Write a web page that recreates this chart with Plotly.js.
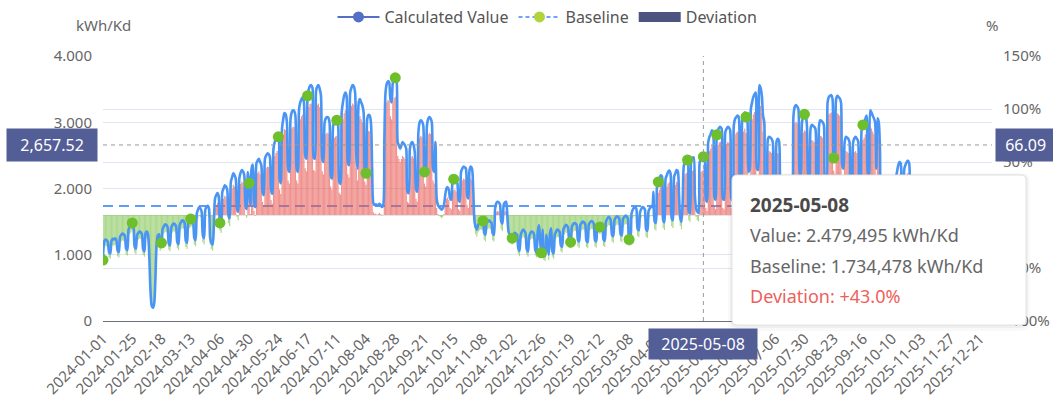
<!DOCTYPE html>
<html>
<head>
<meta charset="utf-8">
<script src="https://cdn.plot.ly/plotly-3.0.1.min.js"></script>
<style>html,body{margin:0;padding:0;background:#fff}#chart{width:1053px;height:408px}</style>
</head>
<body>
<div id="chart"></div>
<script>
// ---------------- data ----------------
const startDate = '2024-01-01';
const axisEnd = '2025-12-31';
const baselineValue = 1734.478;      // kWh/Kd
const hoverDate = '2025-05-08';
const pointerKwh = 2657.52;
const pointerPct = 66.09;

const tickLabels = [
  '2024-01-01','2024-01-25','2024-02-18','2024-03-13','2024-04-06','2024-04-30',
  '2024-05-24','2024-06-17','2024-07-11','2024-08-04','2024-08-28','2024-09-21',
  '2024-10-15','2024-11-08','2024-12-02','2024-12-26','2025-01-19','2025-02-12',
  '2025-03-08','2025-04-01','2025-04-25','2025-05-19','2025-06-12','2025-07-06',
  '2025-07-30','2025-08-23','2025-09-16','2025-10-10','2025-11-03','2025-11-27',
  '2025-12-21'
];

// daily calculated value (kWh/Kd), one row per week (Mon..Sun), from 2024-01-01
const dailyValues = [
  920,1200,1230,1220,1190,1040,1020,
  1210,1240,1230,1250,1220,1060,1040,
  1270,1300,1320,1310,1280,1090,1070,
  1380,1420,1450,1480,1440,1120,1090,
  1300,1330,1350,1340,1310,1080,1050,
  1330,1350,1300,980,450,230,200,
  260,620,1150,1290,1310,1150,1180,
  1390,1430,1460,1450,1420,1170,1140,
  1410,1450,1470,1460,1430,1190,1160,
  1450,1490,1520,1510,1480,1210,1180,
  1490,1520,1540,1550,1510,1250,1220,
  1620,1680,1720,1700,1650,1290,1250,
  1680,1720,1740,1700,1250,1180,1150,
  1420,1850,1900,1930,1880,1480,1440,
  1950,2000,2050,2030,1980,1600,1550,
  2100,2170,2230,2200,2150,1700,1650,
  2160,2240,2280,2260,2200,1740,1690,
  2250,2080,1750,2300,2360,1800,1720,
  2380,2420,2450,2400,2350,1950,1900,
  2450,2500,2530,2520,2480,1980,1920,
  2600,2700,2750,2780,2780,2150,2080,
  2900,3050,3140,3120,3000,2300,2250,
  3050,3150,3180,3170,3100,2300,2250,
  3200,3300,3350,3380,3300,2500,2450,
  3400,3500,3550,3560,3520,2470,2450,
  3480,3540,3560,3500,3400,2450,2400,
  3000,3060,3080,3070,3000,2200,2150,
  2950,3000,3020,3030,2980,2100,2070,
  3150,3300,3400,3450,3400,2400,2350,
  3450,3520,3560,3540,3450,2500,2300,
  3300,3350,3300,3250,3150,2280,2230,
  3050,3110,3100,3000,2300,1780,1750,
  1760,1740,1750,1770,1750,1720,1740,
  2700,3450,3580,3620,3600,3350,3300,
  3600,3650,3670,3640,2700,2650,2600,
  2650,2700,2680,2650,2600,1950,1930,
  2600,2680,2700,2660,2550,2000,1950,
  2850,3000,3030,3010,2950,2250,2200,
  2950,3050,3080,3060,3000,2300,2250,
  2700,1850,1750,1720,1700,1680,1700,
  1750,1900,2000,2020,1980,1850,1830,
  2100,2140,2150,2120,2080,1830,1800,
  2250,2300,2330,2320,2300,1900,1850,
  2280,2330,2300,2000,1520,1420,1380,
  1450,1480,1500,1490,1510,1330,1300,
  1480,1500,1520,1500,1480,1320,1300,
  1700,1780,1800,1790,1760,1500,1470,
  1750,1790,1800,1600,1350,1300,1280,
  1250,1300,1330,1320,1300,1100,1060,
  1300,1350,1380,1360,1320,1080,1050,
  1280,1330,1350,1340,1300,1070,1040,
  1350,1450,1200,1030,1380,1000,980,
  1300,1150,1000,1320,1400,1050,1020,
  1300,1350,1380,1370,1340,1140,1120,
  1380,1420,1450,1440,1400,1200,1190,
  1420,1460,1480,1470,1450,1220,1200,
  1450,1480,1500,1490,1460,1210,1190,
  1460,1490,1510,1500,1470,1220,1200,
  1430,1450,1420,1460,1440,1230,1210,
  1500,1540,1570,1560,1520,1300,1280,
  1520,1560,1580,1570,1540,1310,1290,
  1540,1570,1590,1580,1550,1230,1240,
  1620,1680,1710,1720,1690,1390,1370,
  1640,1690,1720,1710,1680,1380,1360,
  1660,1700,1730,1720,1950,1500,1480,
  2050,2100,2150,2200,2180,1520,1490,
  2150,2200,2250,2270,2230,1550,1520,
  2180,2230,2280,2260,1900,1560,1500,
  1800,2350,2400,2420,2430,1650,1620,
  2420,2460,2470,1900,1700,1650,1630,
  2400,2440,2460,2479.495,2450,1850,1800,
  2700,2780,2820,2880,2850,1880,1830,
  2810,2880,2920,2930,2900,1850,1830,
  2850,2900,2930,2920,2880,1850,1820,
  2950,3050,3080,3100,3080,2100,2050,
  3050,3100,3150,3080,3050,2250,2280,
  3200,3300,3380,3420,3450,2300,2280,
  3560,3520,3400,3100,3000,1750,1720,
  2750,2780,2770,2750,2700,1750,1720,
  2700,2750,2730,2100,1900,1800,1780,
  1900,1950,2000,2050,2100,1800,1850,
  3100,3230,3260,3240,3200,2250,2200,
  3000,3080,3120,3100,2960,2200,2150,
  2900,2960,2950,2930,2900,2100,2050,
  2950,3030,3020,3000,2950,2100,2080,
  3300,3380,3400,3410,3360,2460,2400,
  3350,3400,3380,3360,3300,2350,2300,
  2700,2780,2770,2750,2700,2000,1950,
  2700,2760,2780,2750,2720,2000,1950,
  2900,2960,3000,3050,3100,2250,2200,
  3180,3150,3100,3060,3000,2300,3060,
  3000,2600,1500,1450,1400,1420,1450,
  1450,1480,1500,1900,2000,2050,1800,
  2150,2250,2350,2400,2380,1800,1750,
  2300,2360,2400,2420,2380,1800,1750,
  2100,2150,2180,2120,2050
];

// ---------------- derived ----------------
function addDays(s, n) {
  const d = new Date(s + 'T00:00:00Z');
  d.setUTCDate(d.getUTCDate() + n);
  return d.toISOString().slice(0, 10);
}
const dates = dailyValues.map((_, i) => addDays(startDate, i));
const baselineSeries = dates.map(() => baselineValue);
const deviation = dailyValues.map(v => (v - baselineValue) / baselineValue * 100);
const barColors = deviation.map(d => d >= 0 ? 'rgba(232,86,80,0.64)' : 'rgba(118,192,66,0.6)');
const dotDates = tickLabels.filter(d => dates.indexOf(d) >= 0).concat([hoverDate]);
const dotValues = dotDates.map(d => dailyValues[dates.indexOf(d)]);

const hoverIdx = dates.indexOf(hoverDate);
const hoverValue = dailyValues[hoverIdx];
const hoverDev = deviation[hoverIdx];

function fmtDE(v, dec) {
  const parts = v.toFixed(dec).split('.');
  return parts[0].replace(/\B(?=(\d{3})+(?!\d))/g, '.') + (dec ? ',' + parts[1] : '');
}
function fmtEN(v, dec) {
  const parts = v.toFixed(dec).split('.');
  return parts[0].replace(/\B(?=(\d{3})+(?!\d))/g, ',') + (dec ? '.' + parts[1] : '');
}

// ---------------- traces ----------------
const FONT = 'Noto Sans, Open Sans, sans-serif';
const traces = [
  { // baseline dashed line (bottom layer)
    x: dates, y: baselineSeries, yaxis: 'y', type: 'scatter', mode: 'lines',
    line: {color: '#5c9df5', width: 2, dash: '10px,6px'},
    showlegend: false, hoverinfo: 'skip'
  },
  { // deviation bars
    x: dates, y: deviation, yaxis: 'y2', type: 'bar',
    marker: {color: barColors, line: {width: 0}},
    showlegend: false, hoverinfo: 'skip'
  },
  { // calculated value line
    x: dates, y: dailyValues, yaxis: 'y3', type: 'scatter', mode: 'lines',
    line: {color: '#4a95f3', width: 2.6, shape: 'spline', smoothing: 0.8},
    showlegend: false, hoverinfo: 'skip'
  },
  { // symbols
    x: dotDates, y: dotValues, yaxis: 'y3', type: 'scatter', mode: 'markers',
    marker: {color: '#6dbf2b', size: 11},
    showlegend: false, hoverinfo: 'skip'
  },
  // legend entries
  { x: [null], y: [null], yaxis: 'y3', type: 'scatter', mode: 'lines+markers', name: 'Calculated Value',
    line: {color: '#5470c6', width: 2}, marker: {color: '#5470c6', size: 11}, legendrank: 1 },
  { x: [null], y: [null], yaxis: 'y3', type: 'scatter', mode: 'lines+markers', name: 'Baseline',
    line: {color: '#6fa3f7', width: 2, dash: '4px,3px'}, marker: {color: '#b2d33b', size: 11}, legendrank: 2 },
  { x: [null], y: [null], yaxis: 'y3', type: 'scatter', mode: 'lines', name: 'Deviation',
    line: {color: '#4c5380', width: 20}, legendrank: 3 }
];

// ---------------- tooltip box ----------------
const PL = 103, PR = 992, PT = 56, PB = 321;
const X = p => (p - PL) / (PR - PL);
const Y = p => (PB - p) / (PB - PT);
function roundRect(px0, py0, px1, py1, r) {
  return `M ${X(px0 + r)},${Y(py0)} L ${X(px1 - r)},${Y(py0)} Q ${X(px1)},${Y(py0)} ${X(px1)},${Y(py0 + r)} ` +
         `L ${X(px1)},${Y(py1 - r)} Q ${X(px1)},${Y(py1)} ${X(px1 - r)},${Y(py1)} ` +
         `L ${X(px0 + r)},${Y(py1)} Q ${X(px0)},${Y(py1)} ${X(px0)},${Y(py1 - r)} ` +
         `L ${X(px0)},${Y(py0 + r)} Q ${X(px0)},${Y(py0)} ${X(px0 + r)},${Y(py0)} Z`;
}
const tb = {x0: 732, y0: 175, x1: 1026, y1: 325};

const shapes = [
  {type: 'line', xref: 'x', x0: hoverDate, x1: hoverDate, yref: 'paper', y0: 0, y1: 1,
   line: {color: '#9a9a9a', width: 1, dash: '4px,4px'}, layer: 'above'},
  {type: 'line', xref: 'paper', x0: 0, x1: 1, yref: 'y', y0: pointerKwh, y1: pointerKwh,
   line: {color: '#9a9a9a', width: 1, dash: '4px,4px'}, layer: 'above'},
  {type: 'path', xref: 'paper', yref: 'paper', layer: 'above', path: roundRect(tb.x0 - 4, tb.y0 - 2, tb.x1 + 4, tb.y1 + 6, 9),
   fillcolor: 'rgba(0,0,0,0.025)', line: {width: 0}},
  {type: 'path', xref: 'paper', yref: 'paper', layer: 'above', path: roundRect(tb.x0 - 2, tb.y0 - 1, tb.x1 + 2, tb.y1 + 3, 7),
   fillcolor: 'rgba(0,0,0,0.04)', line: {width: 0}},
  {type: 'path', xref: 'paper', yref: 'paper', layer: 'above', path: roundRect(tb.x0, tb.y0, tb.x1, tb.y1, 5),
   fillcolor: '#ffffff', line: {color: '#e2e2e2', width: 1}}
];

const tipX = X(748);
const annotations = [
  {xref: 'paper', yref: 'paper', x: 0, y: Y(25), xanchor: 'center', yanchor: 'middle', showarrow: false,
   text: 'kWh/Kd', font: {family: FONT, size: 15, color: '#666'}},
  {xref: 'paper', yref: 'paper', x: 1, y: Y(25), xanchor: 'center', yanchor: 'middle', showarrow: false,
   text: '%', font: {family: FONT, size: 15, color: '#666'}},
  {xref: 'paper', yref: 'y', x: 0, y: pointerKwh, xanchor: 'right', yanchor: 'middle', xshift: -5, showarrow: false,
   text: '&nbsp;&nbsp;' + fmtEN(pointerKwh, 2) + '&nbsp;&nbsp;', bgcolor: '#535d96', borderpad: 5,
   font: {family: FONT, size: 16, color: '#fff'}},
  {xref: 'paper', yref: 'y2', x: 1, y: pointerPct, xanchor: 'left', yanchor: 'middle', xshift: 3, showarrow: false,
   text: '&nbsp;' + fmtEN(pointerPct, 2) + '&nbsp;&nbsp;', bgcolor: '#535d96', borderpad: 5,
   font: {family: FONT, size: 16, color: '#fff'}},
  {xref: 'x', yref: 'paper', x: hoverDate, y: 0, xanchor: 'center', yanchor: 'top', yshift: -7, showarrow: false,
   text: '&nbsp;&nbsp;' + hoverDate + '&nbsp;&nbsp;', bgcolor: '#535d96', borderpad: 4,
   font: {family: FONT, size: 16, color: '#fff'}},
  {xref: 'paper', yref: 'paper', x: tipX, y: Y(205), xanchor: 'left', yanchor: 'middle', showarrow: false,
   text: '<b>' + hoverDate + '</b>', font: {family: FONT, size: 19, color: '#4a4a4a'}},
  {xref: 'paper', yref: 'paper', x: tipX, y: Y(235), xanchor: 'left', yanchor: 'middle', showarrow: false,
   text: 'Value: ' + fmtDE(hoverValue, 3) + ' kWh/Kd', font: {family: FONT, size: 18, color: '#666'}},
  {xref: 'paper', yref: 'paper', x: tipX, y: Y(266), xanchor: 'left', yanchor: 'middle', showarrow: false,
   text: 'Baseline: ' + fmtDE(baselineValue, 3) + ' kWh/Kd', font: {family: FONT, size: 18, color: '#666'}},
  {xref: 'paper', yref: 'paper', x: tipX, y: Y(296), xanchor: 'left', yanchor: 'middle', showarrow: false,
   text: 'Deviation: ' + (hoverDev >= 0 ? '+' : '') + hoverDev.toFixed(1) + '%', font: {family: FONT, size: 18, color: '#ee5f5b'}}
];

const layout = {
  width: 1053, height: 408,
  margin: {l: PL, r: 1053 - PR, t: PT, b: 408 - PB, pad: 0, autoexpand: false},
  paper_bgcolor: '#ffffff', plot_bgcolor: '#ffffff',
  font: {family: FONT, size: 15, color: '#666'},
  separators: ',.',
  showlegend: true,
  legend: {orientation: 'h', x: 0.5, xanchor: 'center', y: Y(0), yanchor: 'top', itemwidth: 42,
           font: {family: FONT, size: 16, color: '#555'}, bgcolor: 'rgba(0,0,0,0)', traceorder: 'normal'},
  bargap: 0.04,
  xaxis: {type: 'date', range: [startDate, axisEnd], tickmode: 'array', tickvals: tickLabels, ticktext: tickLabels,
          tickangle: -45, showgrid: false, showline: true, linecolor: '#6e7079', linewidth: 1, ticks: '',
          zeroline: false, tickfont: {family: FONT, size: 15, color: '#666'}, ticklabelstandoff: 2},
  yaxis: {range: [0, 4000], tick0: 0, dtick: 1000, tickformat: ',d', showgrid: true, gridcolor: '#e0e6f1',
          zeroline: false, ticks: '', showline: false, tickfont: {family: FONT, size: 15, color: '#666'},
          ticklabelstandoff: 10},
  yaxis2: {overlaying: 'y', side: 'right', range: [-100, 150], tick0: 0, dtick: 50, ticksuffix: '%',
           showgrid: true, gridcolor: '#e0e6f1', zeroline: false, ticks: '', showline: false,
           tickfont: {family: FONT, size: 15, color: '#666'}, ticklabelstandoff: 10},
  yaxis3: {overlaying: 'y', side: 'left', range: [0, 4000], visible: false},
  shapes: shapes,
  annotations: annotations
};

Plotly.newPlot('chart', traces, layout, {staticPlot: true, displayModeBar: false});
</script>
</body>
</html>
